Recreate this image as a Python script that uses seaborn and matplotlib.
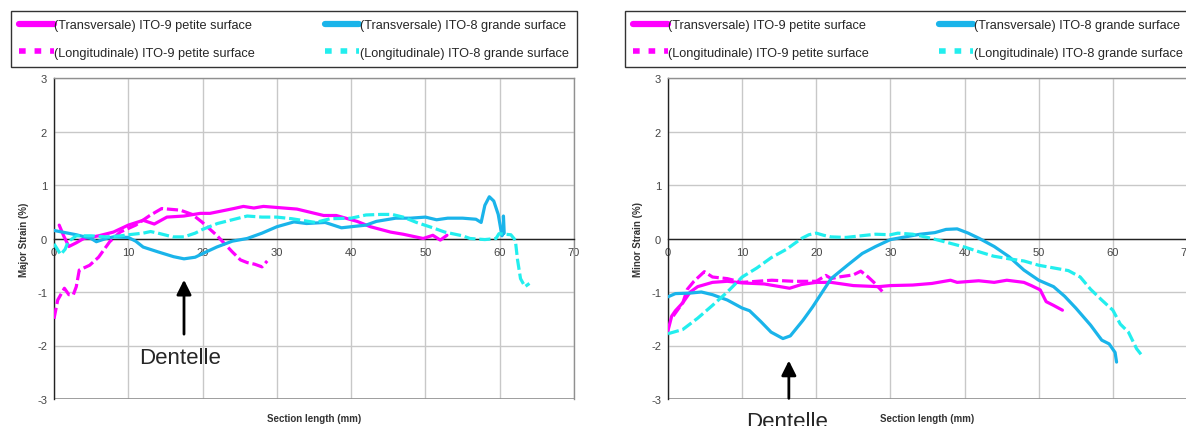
import matplotlib
matplotlib.use("Agg")
import matplotlib.pyplot as plt
from matplotlib.lines import Line2D
import seaborn as sns
import numpy as np
import pandas as pd

# ---- data (x = section length mm, y = strain %) ----
# Major strain
maj_t9_x = [0.7, 1.3, 2.0, 3.0, 4.0, 6.0, 8.0, 10.0, 12.0, 13.5, 15.2, 17.5, 19.7, 21.0, 24.2, 25.5, 26.9, 28.2, 30.0,
            32.7, 36.3, 38.0, 40.8, 42.6, 45.3, 47.0, 49.7, 51.0, 52.0, 52.9]
maj_t9_y = [0.25, 0.05, -0.15, -0.08, 0.0, 0.05, 0.12, 0.25, 0.34, 0.27, 0.4, 0.42, 0.47, 0.47, 0.56, 0.6, 0.57, 0.6, 0.58,
            0.55, 0.43, 0.43, 0.32, 0.22, 0.12, 0.08, 0.0, 0.06, -0.03, 0.06]
maj_l9_x = [0.0, 0.5, 1.4, 2.0, 2.6, 3.0, 3.4, 4.8, 6.0, 7.5, 8.9, 11.0, 12.9, 14.5, 17.0, 18.6, 19.9, 21.9, 24.0,
            25.1, 26.0, 27.0, 28.0, 28.7]
maj_l9_y = [-1.5, -1.15, -0.93, -1.05, -1.05, -0.9, -0.59, -0.5, -0.35, -0.06, 0.12, 0.25, 0.43, 0.56, 0.53, 0.45,
            0.31, 0.06, -0.25, -0.4, -0.45, -0.48, -0.53, -0.42]
maj_t8_x = [0.0, 3.0, 5.0, 5.7, 7.0, 8.0, 10.0, 11.0, 12.0, 14.0, 16.1, 17.5, 19.0, 20.5, 21.9, 24.0, 26.0, 28.0,
            30.0, 32.3, 34.0, 36.5, 38.7, 40.0, 42.0, 43.4, 46.0, 48.0, 50.0, 51.5, 53.0, 55.0, 56.8, 57.5, 58.0,
            58.6, 59.2, 59.8, 60.3, 60.5, 60.5, 60.6]
maj_t8_y = [0.15, 0.07, 0.0, -0.06, 0.0, 0.03, 0.02, -0.05, -0.16, -0.25, -0.34, -0.38, -0.35, -0.25, -0.16, -0.05,
            0.0, 0.1, 0.22, 0.31, 0.28, 0.3, 0.2, 0.22, 0.25, 0.32, 0.38, 0.38, 0.4, 0.35, 0.38, 0.38, 0.36, 0.3,
            0.62, 0.78, 0.7, 0.45, 0.05, 0.1, 0.42, 0.1]
maj_l8_x = [0.0, 0.9, 1.5, 1.9, 3.0, 5.0, 7.0, 9.0, 10.0, 12.0, 13.0, 14.0, 16.0, 17.5, 19.0, 20.0, 22.0, 24.0,
            26.0, 28.0, 30.0, 32.0, 35.2, 37.2, 40.0, 42.0, 44.0, 45.5, 47.0, 48.8, 51.0, 52.6, 55.0, 56.0, 58.0,
            59.5, 59.9, 61.5, 62.1, 62.4, 62.8, 63.4, 64.0]
maj_l8_y = [-0.1, -0.3, -0.2, -0.06, 0.05, 0.05, 0.03, 0.05, 0.07, 0.1, 0.13, 0.1, 0.03, 0.03, 0.1, 0.17, 0.28,
            0.35, 0.42, 0.4, 0.4, 0.37, 0.3, 0.37, 0.38, 0.44, 0.45, 0.45, 0.4, 0.3, 0.2, 0.12, 0.05, 0.0, -0.02,
            0.0, 0.09, 0.07, -0.03, -0.4, -0.75, -0.9, -0.84]

# Minor strain
min_t9_x = [0.0, 0.5, 1.0, 2.0, 3.0, 4.0, 6.0, 8.0, 10.0, 13.0, 16.4, 18.0, 20.0, 22.0, 25.0, 28.4, 30.0, 33.0,
            35.6, 38.1, 39.0, 41.9, 44.0, 45.7, 48.0, 49.0, 50.2, 51.0, 52.0, 53.2]
min_t9_y = [-1.72, -1.45, -1.35, -1.2, -1.0, -0.9, -0.82, -0.8, -0.83, -0.85, -0.93, -0.86, -0.82, -0.82, -0.88,
            -0.9, -0.88, -0.87, -0.84, -0.78, -0.82, -0.79, -0.82, -0.78, -0.82, -0.88, -0.96, -1.18, -1.25, -1.34]
min_l9_x = [0.7, 2.0, 2.6, 3.5, 4.9, 6.0, 8.0, 10.0, 14.0, 17.0, 20.0, 21.3, 22.0, 23.0, 25.0, 26.0, 27.0, 28.0, 28.9]
min_l9_y = [-1.45, -1.2, -0.95, -0.8, -0.62, -0.72, -0.75, -0.82, -0.78, -0.8, -0.8, -0.69, -0.75, -0.72, -0.68,
            -0.61, -0.72, -0.85, -0.99]
min_t8_x = [0.0, 1.0, 3.0, 4.5, 6.0, 8.0, 10.0, 11.0, 12.5, 13.9, 15.5, 16.5, 18.2, 19.5, 21.1, 22.0, 24.2, 26.2,
            28.0, 30.0, 32.0, 34.0, 36.0, 37.5, 39.0, 40.5, 42.0, 44.0, 46.0, 48.0, 50.0, 52.0, 53.5, 55.0, 57.0,
            58.5, 59.5, 60.3, 60.5]
min_t8_y = [-1.09, -1.03, -1.02, -1.0, -1.05, -1.15, -1.3, -1.35, -1.55, -1.75, -1.87, -1.82, -1.53, -1.28, -0.94,
            -0.75, -0.5, -0.28, -0.15, -0.02, 0.03, 0.08, 0.11, 0.17, 0.18, 0.1, 0.0, -0.15, -0.34, -0.59, -0.78,
            -0.9, -1.08, -1.3, -1.62, -1.9, -1.97, -2.13, -2.31]
min_l8_x = [0.0, 2.0, 4.0, 6.0, 8.0, 10.0, 12.0, 13.9, 16.0, 18.0, 19.0, 20.0, 21.0, 22.0, 24.0, 26.0, 28.0, 30.0,
            31.0, 33.0, 35.0, 37.0, 40.0, 42.0, 43.9, 46.0, 48.0, 50.0, 52.0, 54.0, 55.6, 57.0, 58.5, 60.0, 61.0,
            62.1, 63.2, 64.1]
min_l8_y = [-1.78, -1.7, -1.49, -1.25, -1.0, -0.72, -0.55, -0.36, -0.2, 0.0, 0.07, 0.1, 0.06, 0.03, 0.02, 0.05,
            0.08, 0.07, 0.1, 0.08, 0.02, -0.05, -0.16, -0.25, -0.33, -0.38, -0.42, -0.5, -0.55, -0.6, -0.72,
            -0.95, -1.15, -1.34, -1.6, -1.75, -2.06, -2.22]

labels = ["(Transversale) ITO-9 petite surface", "(Longitudinale) ITO-9 petite surface",
          "(Transversale) ITO-8 grande surface", "(Longitudinale) ITO-8 grande surface"]
x_ticks = [0, 10, 20, 30, 40, 50, 60, 70]
y_ticks = [-3, -2, -1, 0, 1, 2, 3]

PINK = "#ff00ff"
BLUE = "#1ab4ea"
CYAN = "#22eeee"
DASH = (0, (3.5, 1.2))

sns.set_style("white")
plt.rcParams["font.family"] = ["Liberation Sans", "DejaVu Sans"]
plt.rcParams["axes.unicode_minus"] = False

fig = plt.figure(figsize=(11.86, 4.27), dpi=100)
ax1 = fig.add_axes([54 / 1186, 1 - 400 / 427, 520 / 1186, 321 / 427])
ax2 = fig.add_axes([668 / 1186, 1 - 400 / 427, 519 / 1186, 321 / 427])


def draw_panel(ax, series, ylabel, leg_box):
    for (xs, ys), color, ls in zip(series, [PINK, PINK, BLUE, CYAN], ["-", DASH, "-", DASH]):
        df = pd.DataFrame({"x": xs, "y": ys})
        sns.lineplot(data=df, x="x", y="y", ax=ax, color=color, linestyle=ls, lw=2.3,
                     sort=False, estimator=None, zorder=3)
    ax.set_xlim(0, 70)
    ax.set_ylim(-3, 3)
    ax.set_xticks(x_ticks)
    ax.set_yticks(y_ticks)
    ax.grid(True, color="#c8c8c8", lw=1)
    ax.set_axisbelow(True)
    for s in ["top", "right"]:
        ax.spines[s].set_color("#909090")
        ax.spines[s].set_linewidth(1)
    ax.spines["left"].set_color("#222222")
    ax.spines["left"].set_linewidth(1)
    ax.spines["bottom"].set_position(("data", 0))
    ax.spines["bottom"].set_color("#222222")
    ax.spines["bottom"].set_linewidth(1)
    ax.axhline(-3, color="#909090", lw=1.2, zorder=2)
    ax.tick_params(axis="both", labelsize=8, colors="#222222", labelcolor="#444444",
                   length=3, width=1, direction="out", pad=2)
    ax.tick_params(axis="x", pad=3)
    ax.set_xlabel("")
    ax.set_ylabel("")
    ax.text(0.5, -0.058, "Section length (mm)", transform=ax.transAxes, ha="center", va="center",
            fontsize=7, fontweight="bold", color="#333333")
    ax.text(-0.057, 0.5, ylabel, transform=ax.transAxes, ha="center", va="center",
            rotation=90, fontsize=7, fontweight="bold", color="#333333")

    handles = [Line2D([], [], color=PINK, lw=4.5, solid_capstyle="round"),
               Line2D([], [], color=PINK, lw=4, linestyle=(0, (1.2, 1.6))),
               Line2D([], [], color=BLUE, lw=4.5, solid_capstyle="round"),
               Line2D([], [], color=CYAN, lw=4, linestyle=(0, (1.2, 1.6)))]
    leg = ax.legend(handles, labels, ncol=2, loc="lower left",
                    bbox_to_anchor=leg_box, mode="expand",
                    borderaxespad=0, fontsize=9.2, frameon=True, fancybox=False,
                    handlelength=2.7, handletextpad=0.05, labelspacing=1.2,
                    borderpad=0.65, columnspacing=1.0)
    leg.get_frame().set_edgecolor("black")
    leg.get_frame().set_linewidth(1)


draw_panel(ax1, [(maj_t9_x, maj_t9_y), (maj_l9_x, maj_l9_y), (maj_t8_x, maj_t8_y), (maj_l8_x, maj_l8_y)],
           "Major Strain (%)", (-0.0827, 1.034, 1.0885, 0.18))
draw_panel(ax2, [(min_t9_x, min_t9_y), (min_l9_x, min_l9_y), (min_t8_x, min_t8_y), (min_l8_x, min_l8_y)],
           "Minor Strain (%)", (-0.0829, 1.034, 1.0906, 0.18))

# "Dentelle" annotations
arrow = dict(arrowstyle="-|>", color="black", lw=2, mutation_scale=22)
ax1.annotate("", xy=(17.5, -0.72), xytext=(17.5, -1.84), arrowprops=arrow)
ax1.text(17.0, -2.23, "Dentelle", ha="center", va="center", fontsize=16)
ax2.annotate("", xy=(16.3, -2.23), xytext=(16.3, -3.04), arrowprops=arrow, annotation_clip=False)
ax2.text(16.0, -3.42, "Dentelle", ha="center", va="center", fontsize=16, clip_on=False)

fig.savefig("out.png", dpi=100)
